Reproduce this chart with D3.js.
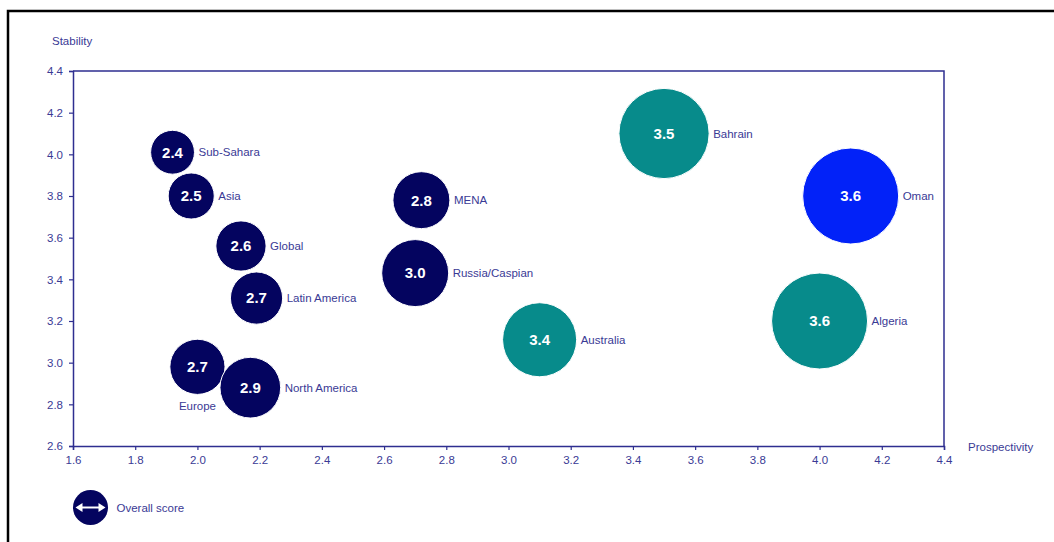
<!DOCTYPE html>
<html>
<head>
<meta charset="utf-8">
<script src="https://cdn.jsdelivr.net/npm/d3@7"></script>
<style>
  html, body { margin: 0; padding: 0; background: #fff; }
  svg { display: block; }
  text { font-family: "Liberation Sans", Arial, sans-serif; }
</style>
</head>
<body>
<div id="chart"></div>
<script>
// ---------- data ----------
const names        = ["Sub-Sahara", "Asia", "Global", "Latin America", "Europe", "North America",
                      "MENA", "Russia/Caspian", "Australia", "Bahrain", "Oman", "Algeria"];
const prospectivity = [1.92, 1.98, 2.14, 2.19, 2.00, 2.17, 2.72, 2.70, 3.10, 3.50, 4.10, 4.00];
const stability     = [4.01, 3.80, 3.56, 3.31, 2.98, 2.88, 3.78, 3.43, 3.11, 4.10, 3.80, 3.20];
const overallScore  = ["2.4", "2.5", "2.6", "2.7", "2.7", "2.9", "2.8", "3.0", "3.4", "3.5", "3.6", "3.6"];
const bubbleSize    = [4.8, 5.3, 6.3, 6.8, 7.6, 9.2, 8.1, 11.2, 13.7, 20.3, 23.0, 23.0];
const group         = ["region", "region", "region", "region", "region", "region",
                       "region", "region", "country", "country", "highlight", "country"];
const labelSide     = ["right", "right", "right", "right", "below", "right",
                       "right", "right", "right", "right", "right", "right"];
const xTicks = [1.6, 1.8, 2.0, 2.2, 2.4, 2.6, 2.8, 3.0, 3.2, 3.4, 3.6, 3.8, 4.0, 4.2, 4.4];
const yTicks = [2.6, 2.8, 3.0, 3.2, 3.4, 3.6, 3.8, 4.0, 4.2, 4.4];
const xTitle = "Prospectivity";
const yTitle = "Stability";
const legendLabel = "Overall score";

// ---------- styles ----------
const W = 1054, H = 542;
const plot = { left: 73, right: 944, top: 71, bottom: 446 };
const axisColor = "#2e2e90";
const textColor = "#3a3a95";
const colors = { region: "#04045f", country: "#078b8b", highlight: "#0222f8" };

const svg = d3.select("#chart").append("svg").attr("width", W).attr("height", H);

// outer frame (only top & left visible in reference)
svg.append("rect").attr("x", 8).attr("y", 11).attr("width", W + 20).attr("height", H + 20)
  .attr("fill", "none").attr("stroke", "#000").attr("stroke-width", 2.5);

const x = d3.scaleLinear().domain([1.6, 4.4]).range([plot.left, plot.right]);
const y = d3.scaleLinear().domain([2.6, 4.4]).range([plot.bottom, plot.top]);
const r = d3.scaleSqrt().domain([0, 23]).range([0, 48]);

// plot frame top & right
svg.append("path")
  .attr("d", `M${plot.left},${plot.top}H${plot.right}V${plot.bottom}`)
  .attr("fill", "none").attr("stroke", axisColor).attr("stroke-width", 1.5);

// axes
const xAxis = svg.append("g").attr("transform", `translate(0,${plot.bottom})`)
  .call(d3.axisBottom(x).tickValues(xTicks).tickFormat(d3.format(".1f")).tickSizeOuter(0).tickSize(4).tickPadding(6));
const yAxis = svg.append("g").attr("transform", `translate(${plot.left},0)`)
  .call(d3.axisLeft(y).tickValues(yTicks).tickFormat(d3.format(".1f")).tickSizeOuter(0).tickSize(4).tickPadding(6));
[xAxis, yAxis].forEach(g => {
  g.select(".domain").attr("stroke", axisColor).attr("stroke-width", 1.5);
  g.selectAll(".tick line").attr("stroke", axisColor).attr("stroke-width", 1.2);
  g.selectAll(".tick text").attr("fill", textColor).attr("font-size", "11.5px")
    .style("font-family", '"Liberation Sans", Arial, sans-serif');
});

// axis titles
svg.append("text").attr("x", 52).attr("y", 45).attr("fill", textColor)
  .attr("font-size", "11.5px").text(yTitle);
svg.append("text").attr("x", 968).attr("y", 451).attr("fill", textColor)
  .attr("font-size", "11.5px").text(xTitle);

// bubbles
const data = names.map((n, i) => ({
  name: n, px: prospectivity[i], st: stability[i], score: overallScore[i],
  size: bubbleSize[i], group: group[i], side: labelSide[i]
}));

const g = svg.append("g");
g.selectAll("circle.bubble").data(data).join("circle")
  .attr("class", "bubble")
  .attr("cx", d => x(d.px)).attr("cy", d => y(d.st)).attr("r", d => r(d.size))
  .attr("fill", d => colors[d.group]).attr("stroke", "#fff").attr("stroke-width", 1);

g.selectAll("text.score").data(data).join("text")
  .attr("class", "score")
  .attr("x", d => x(d.px)).attr("y", d => y(d.st)).attr("dy", "0.36em")
  .attr("text-anchor", "middle").attr("fill", "#fff")
  .attr("font-size", "15px").attr("font-weight", "bold")
  .text(d => d.score);

g.selectAll("text.name").data(data).join("text")
  .attr("class", "name")
  .attr("x", d => d.side === "below" ? x(d.px) : x(d.px) + r(d.size) + 4)
  .attr("y", d => d.side === "below" ? y(d.st) + r(d.size) + 16 : y(d.st))
  .attr("dy", d => d.side === "below" ? 0 : "0.35em")
  .attr("text-anchor", d => d.side === "below" ? "middle" : "start")
  .attr("fill", textColor).attr("font-size", "11.5px")
  .text(d => d.name);

// legend
const lg = svg.append("g").attr("transform", "translate(90.5,507.5)");
lg.append("circle").attr("r", 17.5).attr("fill", colors.region);
lg.append("path").attr("d", "M-12,0H12").attr("stroke", "#fff").attr("stroke-width", 2);
lg.append("path").attr("d", "M-15,0L-8,-4.5L-8,4.5Z M15,0L8,-4.5L8,4.5Z").attr("fill", "#fff");
lg.append("text").attr("x", 26).attr("y", 0).attr("dy", "0.35em")
  .attr("fill", textColor).attr("font-size", "11.5px").text(legendLabel);
</script>
</body>
</html>
